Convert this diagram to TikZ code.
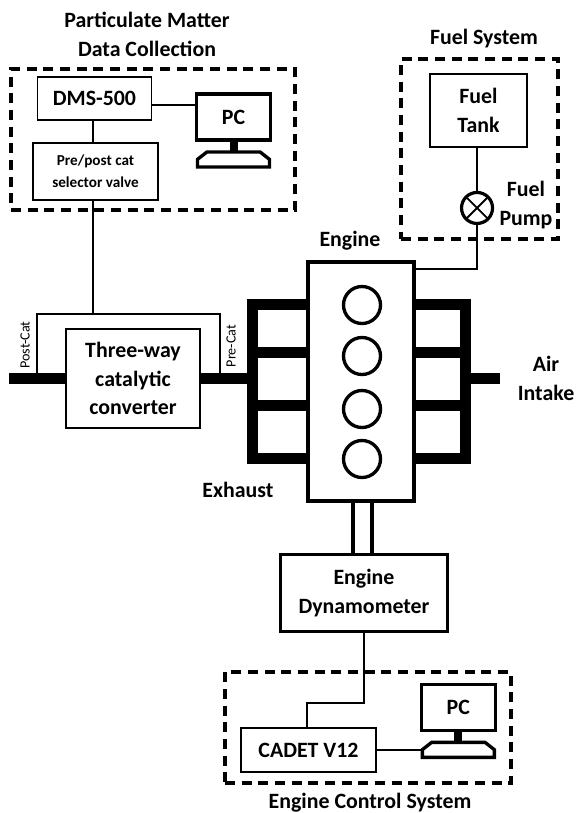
\documentclass[tikz,border=0pt]{standalone}
\usepackage{fontspec}
\setmainfont{Carlito}
\usetikzlibrary{positioning}

\begin{document}
\begin{tikzpicture}[x=0.75pt, y=-0.75pt,
  every node/.style={inner sep=0pt, outer sep=0pt, align=center, font=\fontsize{16.4pt}{21.6pt}\selectfont\bfseries},
  unit/.style={draw, rectangle, line width=1pt},
  screen/.style={draw, rectangle, line width=2.7pt, minimum width=55.5pt, minimum height=34.5pt},
  stand/.style={fill=black, rectangle, minimum width=6pt, minimum height=9pt},
  keyboard/.style={rectangle, minimum width=54pt, minimum height=11.25pt},
  cyl/.style={draw, circle, line width=2.5pt, minimum size=27.75pt},
  group/.style={draw, rectangle, line width=2.5pt, dash pattern=on 7.5pt off 5pt},
  pipe/.style={line width=8.25pt},
  link/.style={line width=1pt}]
  \useasboundingbox (0,0) rectangle (575,813);
  % Groups
  \node[group, minimum width=213pt, minimum height=105.75pt] (pmgroup) at (153,139.5) {};
  \node[group, minimum width=117.75pt, minimum height=135pt] (fuelgroup) at (479.5,149) {};
  \node[group, minimum width=214.5pt, minimum height=83.25pt] (ctrlgroup) at (368,727.5) {};
  % Nodes
  \node[draw, rectangle, line width=2.6pt, fill=white, minimum width=79.5pt, minimum height=179.25pt] (engine) at (361,381.5) {};
  \node[draw, rectangle, line width=2.4pt, minimum width=125.25pt, minimum height=57.75pt, below=40pt of engine, xshift=2.25pt] (dyno) {Engine\\Dynamometer};
  \node[unit, minimum width=100.5pt, minimum height=74.25pt, left=81pt of engine, yshift=2.25pt] (converter) {Three-way\\catalytic\\converter};
  \node[unit, minimum width=85.5pt, minimum height=32.25pt] (dms) at (94.5,98.5) {DMS-500};
  \node[unit, minimum width=93.75pt, minimum height=42.75pt, below=17.25pt of dms, xshift=0.75pt, font=\fontsize{11.4pt}{16.5pt}\selectfont\bfseries] (selector) {Pre/post cat\\selector valve};
  \node[screen, right=33.75pt of dms, yshift=-13.9pt] (pc1) {PC};
  \node[stand, below=0pt of pc1] (stand1) {};
  \node[keyboard, below=0pt of stand1] (kbd1) {};
  \node[unit, minimum width=72.75pt, minimum height=54.75pt] (tank) at (478.5,110.5) {Fuel\\Tank};
  \node[draw, circle, line width=2.4pt, minimum size=23.25pt, below=34.1pt of tank, xshift=-1.1pt] (pump) {};
  \node[unit, minimum width=101.25pt, minimum height=33pt] (cadet) at (308.5,750) {CADET V12};
  \node[screen, right=34pt of cadet, yshift=32pt] (pc2) {PC};
  \node[stand, below=0pt of pc2] (stand2) {};
  \node[keyboard, below=0pt of stand2] (kbd2) {};
  \foreach \n/\y in {1/305, 2/356, 3/409, 4/459}
    \node[cyl] (cyl\n) at (362,\y) {};
  % Labels
  \node (pmlabel) at (147,34) {Particulate Matter\\Data Collection};
  \node (fuellabel) at (484,39) {Fuel System};
  \node (enginelabel) at (350,241) {Engine};
  \node (pumplabel) at (526,205) {Fuel\\Pump};
  \node (exhaustlabel) at (238,490) {Exhaust};
  \node (airlabel) at (546,378.5) {Air\\Intake};
  \node (ctrllabel) at (370,803) {Engine Control System};
  \node[rotate=90, font=\fontsize{10.6pt}{12pt}\selectfont] (postlabel) at (25,345) {Post-Cat};
  \node[rotate=90, font=\fontsize{10.6pt}{12pt}\selectfont] (prelabel) at (231,346) {Pre-Cat};
  % Coordinates
  \coordinate (tee) at (93,314);
  \coordinate (postcat) at (37,373);
  \coordinate (precat) at (220,373);
  \coordinate (tail) at (9,378.5);
  \coordinate (exhaust) at (252.5,378.5);
  \coordinate (intake) at (465,378.5);
  \coordinate (airend) at (500,378.5);
  \coordinate (bend) at (307,703);
  % Edges
  \draw[pipe] (tail) -- (converter.west);
  \draw[pipe] (converter.east) -- (exhaust);
  \draw[pipe] (engine.west |- 0,304.5) -- (252.5,304.5) -- (252.5,458.5) -- (engine.west |- 0,458.5);
  \draw[pipe] (engine.east |- 0,304.5) -- (465,304.5) -- (465,458.5) -- (engine.east |- 0,458.5);
  \foreach \y in {352.5, 405.5} {
    \draw[pipe] (engine.west |- 0,\y) -- (252.5,\y);
    \draw[pipe] (engine.east |- 0,\y) -- (465,\y);
  }
  \draw[pipe] (intake) -- (airend);
  \draw[link] (dms.south -| tee) -- (selector.north -| tee);
  \draw[link] ([yshift=-5pt]dms.east) -- ([yshift=-5pt]dms.east -| pc1.west);
  \draw[link] (selector.south -| tee) -- (tee);
  \draw[link] (postcat) |- (tee) -| (precat);
  \draw[link] (tank.south -| pump.north) -- (pump.north);
  \draw[link] (pump.south) |- ([yshift=-5.25pt]engine.north east);
  \draw[line width=1.4pt] (pump.north west) -- (pump.south east);
  \draw[line width=1.4pt] (pump.north east) -- (pump.south west);
  \foreach \s in {-6pt, 8.25pt}
    \draw[line width=2.8pt] ([xshift=\s]engine.south) -- ([xshift=\s]engine.south |- dyno.north);
  \draw[link] (dyno.south) |- (bend) -- (bend |- cadet.north);
  \draw[link] (cadet.east) -- (cadet.east -| kbd2.west);
  \foreach \k in {kbd1, kbd2}
    \draw[line width=2.5pt] (\k.south west) -- ([yshift=-5.5pt]\k.north west) -- ([xshift=7pt]\k.north west) -- ([xshift=-7pt]\k.north east) -- ([yshift=-5.5pt]\k.north east) -- (\k.south east) -- cycle;
\end{tikzpicture}
\end{document}
